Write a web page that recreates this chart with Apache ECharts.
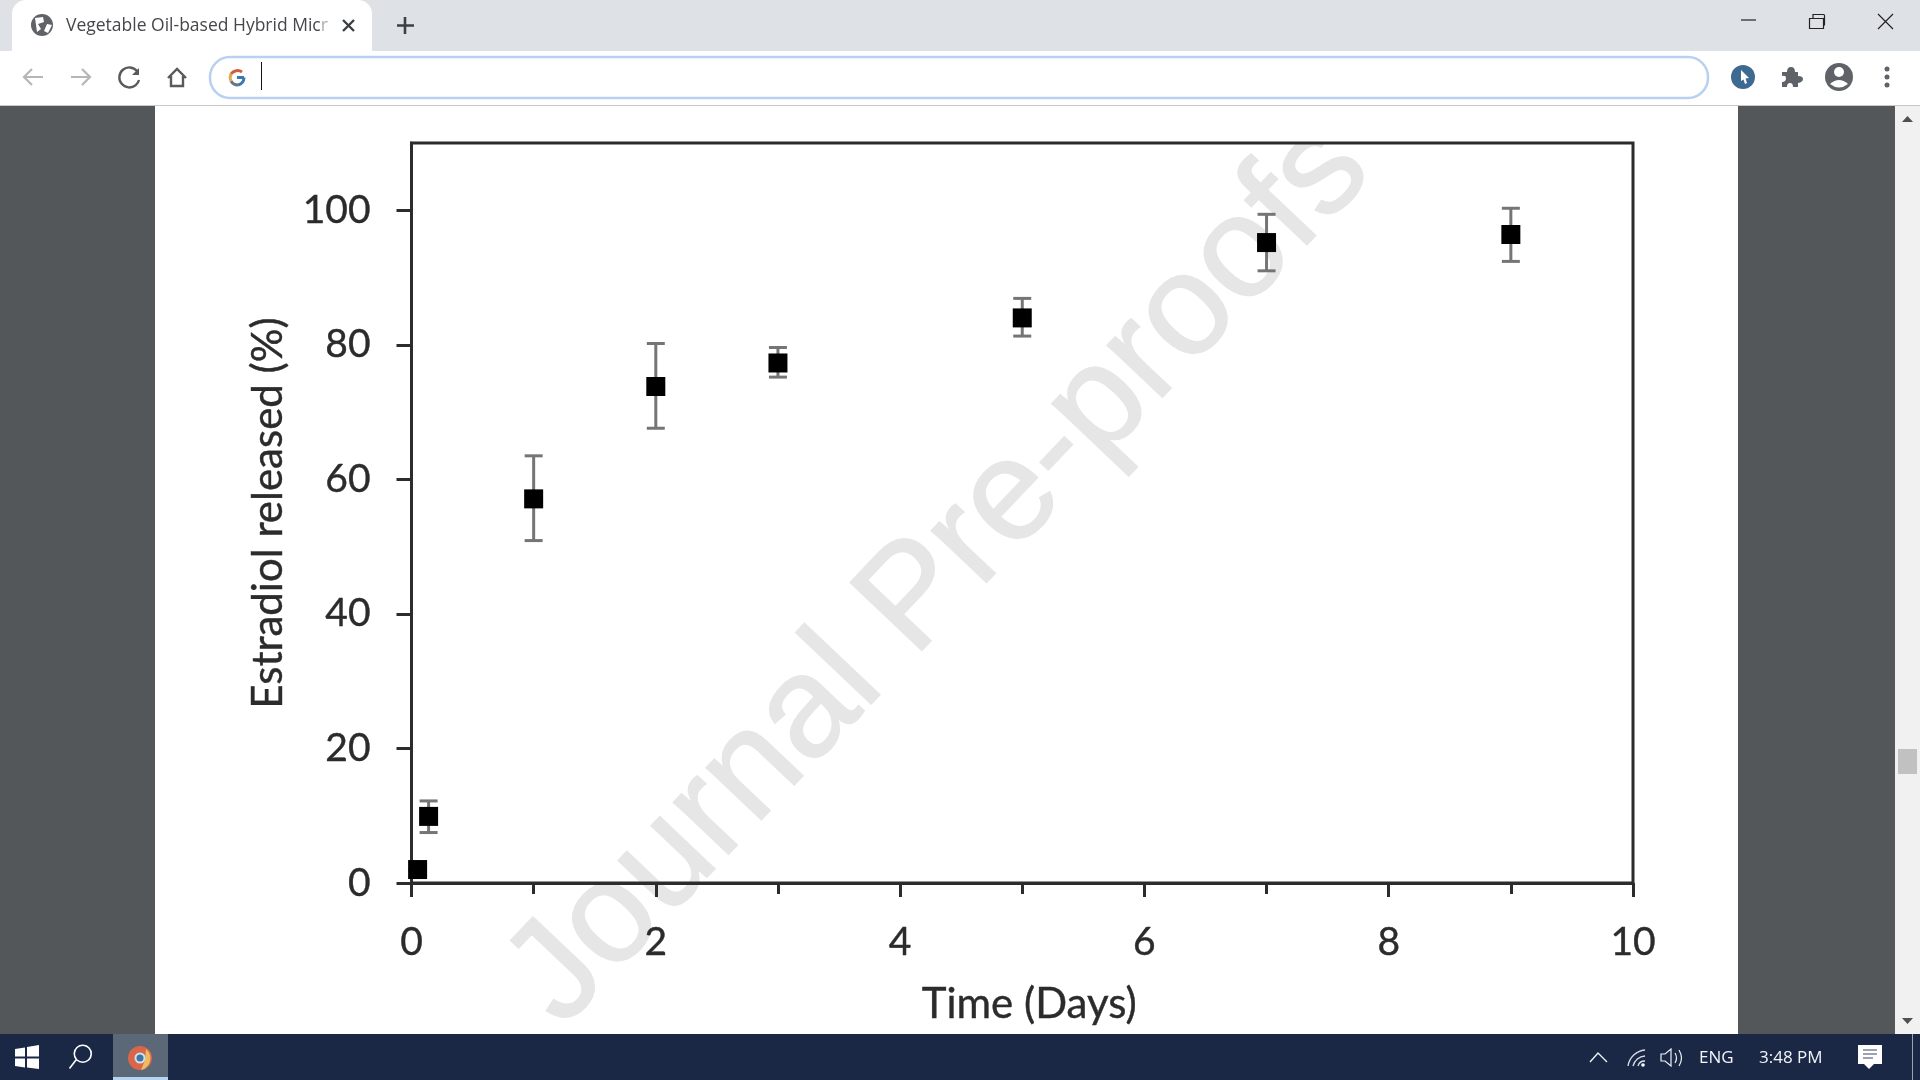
<!DOCTYPE html>
<html>
<head>
<meta charset="utf-8">
<title>Estradiol release</title>
<script src="https://cdn.jsdelivr.net/npm/echarts@6/dist/echarts.min.js"></script>
<style>
  html, body { margin: 0; padding: 0; background: #fff; }
  #chart { width: 1920px; height: 1080px; }
</style>
</head>
<body>
<div id="chart"></div>
<script>
const timeDays = [0.05, 0.14, 1, 2, 3, 5, 7, 9];
const released = [2.0, 9.9, 57.1, 73.8, 77.3, 84.0, 95.2, 96.4];
const errorHigh = [2.0, 12.2, 63.5, 80.2, 79.6, 86.9, 99.4, 100.3];
const errorLow = [2.0, 7.5, 50.9, 67.6, 75.2, 81.3, 91.0, 92.4];
const yTickValues = [0, 20, 40, 60, 80, 100];

const axisColor = "#2c2c2c";
const labelFont = "Lato";
const uiFont = "Open Sans";
// the scanned labels look heavier than Lato regular
const labelStyle = { fontFamily: labelFont, color: "#2b2b2b", textBorderColor: "#2b2b2b", textBorderWidth: 0.4 };

function rect(x, y, width, height, fill, z, r) {
  return { type: "rect", z: z, shape: { x, y, width, height, r: r || 0 }, style: { fill: fill }, silent: true };
}
function label(x, y, text, size, fill, z, family) {
  return {
    type: "text", z: z, x, y, silent: true,
    style: { text, fill, font: size + "px '" + (family || uiFont) + "'", textAlign: "left", textVerticalAlign: "middle" },
  };
}
let iconCount = 0;
function icon(d, fill, stroke, width, z) {
  // graphic has no plain path type, so each icon gets its own registered shape
  const name = "browserIcon" + iconCount++;
  echarts.graphic.registerShape(name, echarts.graphic.extendPath(d, {}));
  return {
    type: name, z: z, silent: true,
    style: { fill: fill || "none", stroke: stroke || "none", lineWidth: width || 1 },
  };
}
function dot(cx, cy, r, fill, z) {
  return { type: "circle", z: z, shape: { cx, cy, r }, style: { fill }, silent: true };
}

// browser window around the page
const Z = 20;
const browser = [
  rect(0, 105, 155, 930, "#53575a", 0),
  rect(1738, 105, 157, 930, "#53575a", 0),
  rect(155, 105, 1583, 930, "#ffffff", 0),
  rect(1895, 105, 25, 930, "#f1f1f1", 0),
  rect(1898, 749, 19, 25, "#c1c1c1", Z),
  icon("M1902 122 L1913 122 L1907.5 116 Z", "#505050", null, 1, Z),
  icon("M1902 1018 L1913 1018 L1907.5 1024 Z", "#505050", null, 1, Z),

  rect(0, 0, 1920, 51, "#dee1e6", Z),
  rect(0, 51, 1920, 54, "#ffffff", Z),
  rect(0, 105, 1920, 1, "#c8c8c8", Z),
  rect(12, 0, 360, 53, "#ffffff", Z, [14, 14, 0, 0]),

  // tab
  dot(42, 25, 11, "#5f6368", Z),
  icon("M35 18 L43 17 L44 22 L38 24 L41 29 L37 32 Z M47 24 L52 25 L48 33 L44 31 Z", "#ffffff", null, 1, Z),
  label(66, 26, "Vegetable Oil-based Hybrid Micr", 17.5, "#45474a", Z),
  rect(322, 8, 7, 34, "rgba(255,255,255,0.55)", Z),
  rect(329, 8, 12, 34, "#ffffff", Z),
  icon("M343 20 L354 31 M354 20 L343 31", null, "#3c4043", 2.4, Z),
  icon("M405 17 L405 34 M397 25.5 L414 25.5", null, "#3c4043", 2.6, Z),

  // window buttons
  icon("M1741 20 L1756 20", null, "#222", 1.2, Z),
  icon("M1809.5 18.5 H1823.5 V28.5 H1809.5 Z M1813 18 V14.5 H1823.5 Q1824.5 14.5 1824.5 15.5 V25 H1824", null, "#222", 1.2, Z),
  icon("M1878 14 L1893 29 M1893 14 L1878 29", null, "#222", 1.2, Z),

  // toolbar
  icon("M43 77 H24 M32 69 L24 77 L32 85", null, "#b4b6b8", 2.2, Z),
  icon("M71 77 H90 M82 69 L90 77 L82 85", null, "#b4b6b8", 2.2, Z),
  icon("M137 71 A10 10 0 1 0 139 80", null, "#5a5a5a", 2.4, Z),
  icon("M139 68 V75 H132 Z", "#5a5a5a", null, 1, Z),
  icon("M168 78 L177 69 L186 78 M171 76 V86 H183 V76", null, "#5a5a5a", 2.4, Z),
  { type: "rect", z: Z, silent: true, shape: { x: 210, y: 57, width: 1498, height: 41, r: 20 }, style: { fill: "#fff", stroke: "#b8d1f1", lineWidth: 2.5 } },
  icon("M244 77.5 H237 M244 77.5 A8 8 0 0 1 238 85", null, "#3e78b2", 3, Z),
  icon("M238 85 A8 8 0 0 1 231 81", null, "#6b7280", 3, Z),
  icon("M231 81 A8 8 0 0 1 231 74", null, "#e0a94e", 3, Z),
  icon("M231 74 A8 8 0 0 1 242 72", null, "#d0603c", 3, Z),
  rect(261, 62, 1, 28, "#111111", Z),
  dot(1743, 77, 12, "#3e6a92", Z),
  icon("M1741 70 L1749 78 L1745.5 78.5 L1747 83 L1745 84 L1743.5 79.5 L1741 81 Z", "#ffffff", null, 1, Z),
  icon("M1782 72 H1787 Q1787 67 1791 67 Q1795 67 1795 72 H1798 V76 Q1803 76 1803 79 Q1803 82 1798 83 V87 H1793 Q1793 83 1790 83 Q1787 83 1787 87 H1782 V82 Q1786 82 1786 78 Q1786 75 1782 76 Z", "#5f6368", null, 1, Z),
  dot(1839, 77, 14, "#5f6368", Z),
  dot(1839, 72, 5, "#ffffff", Z),
  icon("M1830 84 Q1839 76 1848 84 Q1839 91 1830 84 Z", "#ffffff", null, 1, Z),
  dot(1887, 69, 2.5, "#5f6368", Z),
  dot(1887, 77, 2.5, "#5f6368", Z),
  dot(1887, 85, 2.5, "#5f6368", Z),

  // taskbar
  rect(0, 1034, 1920, 46, "#1a2846", Z),
  rect(113, 1034, 55, 46, "#5b6878", Z),
  rect(113, 1077, 55, 3, "#b4d4f2", Z),
  icon("M15 1049 L25 1047.5 V1056.5 H15 Z M27 1047 L39 1045 V1056.5 H27 Z M15 1058.5 H25 V1067.5 L15 1066 Z M27 1058.5 H39 V1069 L27 1067.5 Z", "#ffffff", null, 1, Z),
  icon("M76.5 1059.5 A8.5 8.5 0 1 1 77 1060 Z M76 1060 L69.5 1068.5", null, "#ffffff", 1.6, Z),
  dot(140, 1058, 12, "#d9664a", Z),
  icon("M146 1049 A12 12 0 0 1 141 1070 L145 1060 Z", "#ecbc63", null, 1, Z),
  dot(140, 1058, 5.5, "#cfe0ee", Z),
  dot(140, 1058, 3.5, "#3f74a8", Z),
  icon("M1590 1062 L1598 1053 L1607 1062", null, "#eef1f5", 1.4, Z),
  icon("M1628 1066 A19 19 0 0 1 1645 1050 M1633 1066 A13 13 0 0 1 1645 1056 M1638 1066 A7 7 0 0 1 1645 1061", null, "#d9dee6", 1.3, Z),
  dot(1643, 1065, 1.8, "#ffffff", Z),
  icon("M1661 1054 H1665 L1671 1049 V1066 L1665 1061 H1661 Z M1675 1053 Q1678 1058 1675 1063 M1679 1050 Q1684 1058 1679 1066", null, "#eef1f5", 1.2, Z),
  label(1699, 1058, "ENG", 17, "#f2f4f7", Z),
  label(1759, 1058, "3:48 PM", 17, "#f2f4f7", Z),
  rect(1858, 1045, 24, 19, "#ffffff", Z),
  icon("M1864 1064 L1869 1069 L1874 1064 Z", "#ffffff", null, 1, Z),
  icon("M1863 1050 H1877 M1863 1054 H1877 M1863 1058 H1873", null, "#3a4560", 1, Z),
  rect(1912, 1034, 1, 46, "#9ba3b2", Z),
];

// watermark sits over the white page and under the plot
const watermark = [
  {
    type: "text", z: 1, x: 940, y: 574, rotation: 46.5 * Math.PI / 180, silent: true,
    style: {
      text: "Journal Pre-proofs", fill: "#e6e6e6", stroke: "#e6e6e6", lineWidth: 1.5,
      font: "143.5px 'Liberation Sans'", textAlign: "center", textVerticalAlign: "middle",
    },
  },
  rect(155, 106, 1583, 36, "#ffffff", 1),
];

const chart = echarts.init(document.getElementById("chart"));
chart.setOption({
  animation: false,
  backgroundColor: "#ffffff",
  graphic: { elements: browser.concat(watermark) },
  grid: {
    show: true, z: 2, left: 411.5, right: 287, top: 143, bottom: 197,
    backgroundColor: "transparent", borderColor: axisColor, borderWidth: 3,
  },
  xAxis: {
    type: "value", z: 3, min: 0, max: 10, interval: 2,
    name: "Time (Days)", nameLocation: "middle", nameGap: 100,
    nameTextStyle: Object.assign({ fontSize: 42, padding: [0, 0, 0, 14] }, labelStyle),
    axisLine: { show: true, lineStyle: { color: axisColor, width: 3 } },
    axisTick: { show: true, length: 14, lineStyle: { color: axisColor, width: 3 } },
    minorTick: { show: true, splitNumber: 2, length: 11, lineStyle: { color: axisColor, width: 3 } },
    axisLabel: Object.assign({ margin: 40, fontSize: 39 }, labelStyle),
    splitLine: { show: false },
    minorSplitLine: { show: false },
  },
  yAxis: {
    type: "value", z: 3, min: 0, max: 110,
    name: "Estradiol released (%)", nameLocation: "middle", nameGap: 122, nameRotate: 90,
    nameTextStyle: Object.assign({ fontSize: 42 }, labelStyle),
    axisLine: { show: true, lineStyle: { color: axisColor, width: 3 } },
    axisTick: { show: true, length: 15, customValues: yTickValues, lineStyle: { color: axisColor, width: 3 } },
    axisLabel: Object.assign({ margin: 41, padding: [3, 0, 0, 0], customValues: yTickValues, fontSize: 39 }, labelStyle),
    splitLine: { show: false },
  },
  series: [
    {
      type: "custom",
      z: 4,
      clip: false,
      data: timeDays.map((t, i) => [t, errorLow[i], errorHigh[i]]),
      encode: { x: 0, y: [1, 2] },
      renderItem: function (params, api) {
        const low = api.coord([api.value(0), api.value(1)]);
        const high = api.coord([api.value(0), api.value(2)]);
        const cap = 9;
        const stroke = { stroke: "#757575", lineWidth: 3, fill: "none" };
        return {
          type: "group",
          children: [
            { type: "line", shape: { x1: low[0], y1: low[1], x2: high[0], y2: high[1] }, style: stroke },
            { type: "line", shape: { x1: low[0] - cap, y1: low[1], x2: low[0] + cap, y2: low[1] }, style: stroke },
            { type: "line", shape: { x1: high[0] - cap, y1: high[1], x2: high[0] + cap, y2: high[1] }, style: stroke },
          ],
        };
      },
    },
    {
      type: "scatter",
      z: 5,
      clip: false,
      symbol: "rect",
      symbolSize: 19,
      itemStyle: { color: "#000", opacity: 1 },
      data: timeDays.map((t, i) => [t, released[i]]),
    },
  ],
});
</script>
</body>
</html>
